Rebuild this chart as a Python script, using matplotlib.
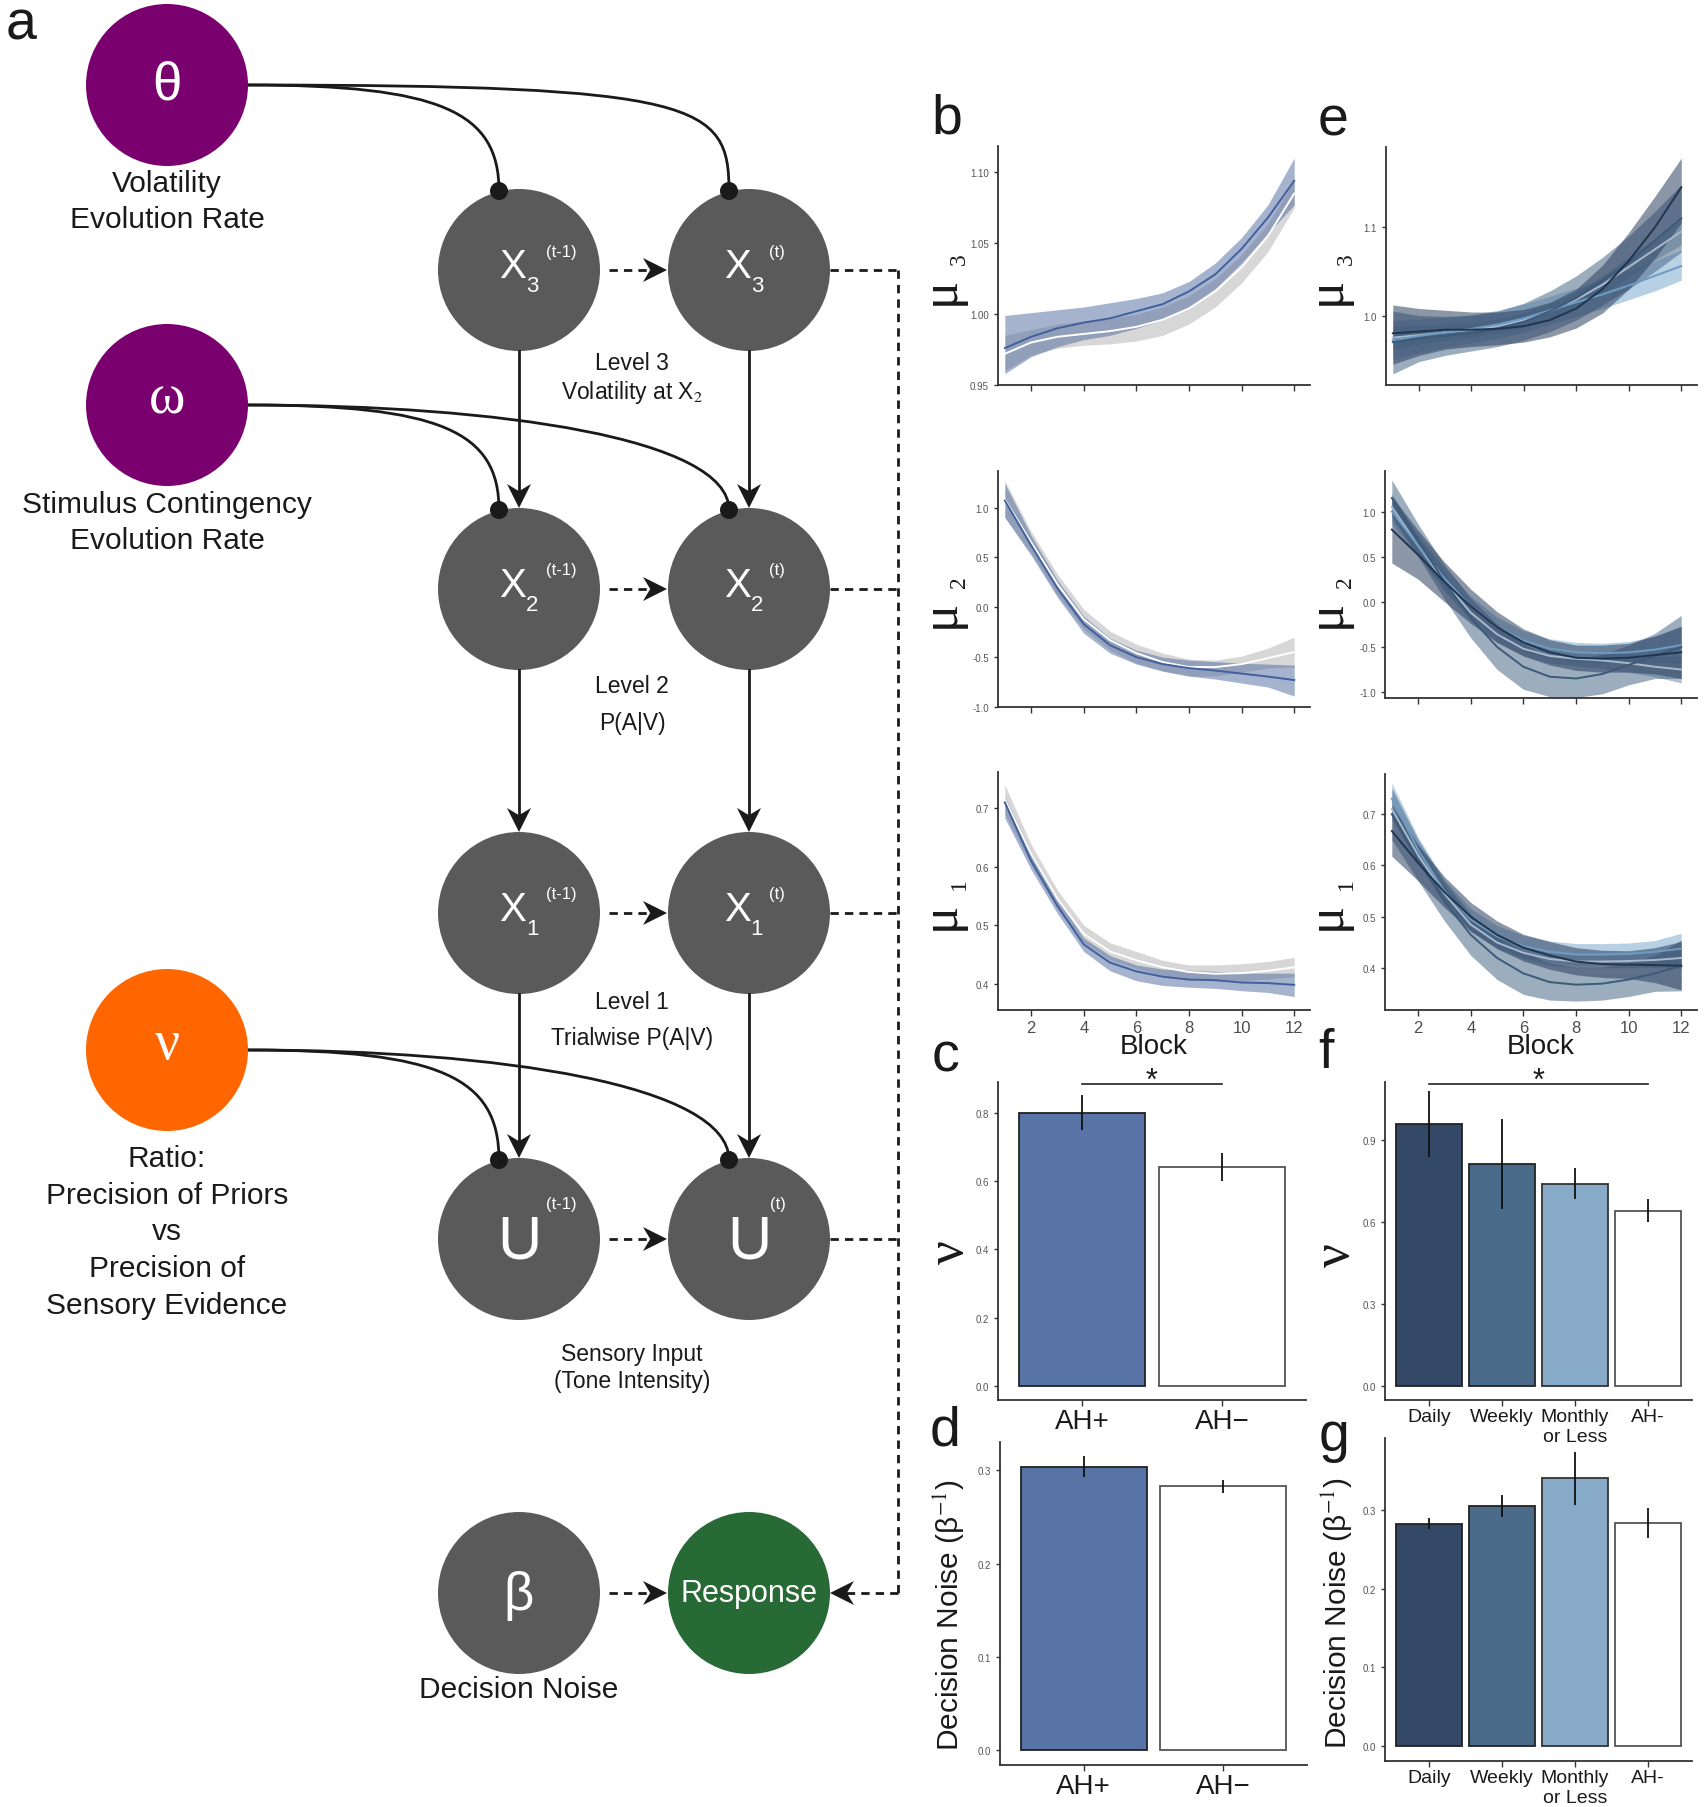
import numpy as np
import matplotlib.pyplot as plt
from matplotlib.patches import Circle, Polygon, PathPatch
from matplotlib.path import Path

plt.rcParams['font.family'] = ['Liberation Sans', 'DejaVu Sans']
plt.rcParams['mathtext.fontset'] = 'stix'

blocks = [1, 2, 3, 4, 5, 6, 7, 8, 9, 10, 11, 12]

# ---- panel b: AH+ vs AH- belief trajectories (mean + band) ----
b3_pos = [0.976, 0.984, 0.990, 0.994, 0.997, 1.002, 1.007, 1.016, 1.028, 1.046, 1.068, 1.094]
b3_pos_lo = [0.958, 0.970, 0.977, 0.982, 0.985, 0.990, 0.996, 1.005, 1.018, 1.036, 1.057, 1.077]
b3_pos_hi = [0.999, 1.001, 1.003, 1.005, 1.008, 1.011, 1.015, 1.023, 1.036, 1.054, 1.077, 1.110]
b3_neg = [0.972, 0.980, 0.984, 0.986, 0.988, 0.991, 0.996, 1.004, 1.016, 1.033, 1.055, 1.085]
b3_neg_lo = [0.960, 0.971, 0.976, 0.978, 0.979, 0.981, 0.985, 0.993, 1.005, 1.022, 1.044, 1.075]
b3_neg_hi = [0.985, 0.989, 0.993, 0.995, 0.997, 1.000, 1.005, 1.013, 1.025, 1.042, 1.064, 1.094]

b2_pos = [1.07, 0.62, 0.19, -0.17, -0.38, -0.50, -0.57, -0.61, -0.635, -0.665, -0.695, -0.73]
b2_pos_lo = [0.90, 0.52, 0.10, -0.26, -0.46, -0.57, -0.64, -0.69, -0.72, -0.76, -0.80, -0.89]
b2_pos_hi = [1.24, 0.72, 0.27, -0.09, -0.31, -0.43, -0.50, -0.53, -0.545, -0.56, -0.57, -0.58]
b2_neg = [1.08, 0.65, 0.23, -0.12, -0.33, -0.46, -0.55, -0.60, -0.60, -0.57, -0.51, -0.45]
b2_neg_lo = [0.90, 0.54, 0.12, -0.22, -0.43, -0.56, -0.64, -0.69, -0.69, -0.65, -0.61, -0.60]
b2_neg_hi = [1.27, 0.76, 0.33, -0.02, -0.24, -0.37, -0.46, -0.52, -0.53, -0.49, -0.41, -0.30]

b1_pos = [0.710, 0.610, 0.533, 0.467, 0.436, 0.421, 0.412, 0.407, 0.406, 0.402, 0.401, 0.398]
b1_pos_lo = [0.683, 0.595, 0.520, 0.455, 0.422, 0.405, 0.397, 0.394, 0.392, 0.388, 0.385, 0.378]
b1_pos_hi = [0.720, 0.625, 0.545, 0.478, 0.448, 0.432, 0.425, 0.423, 0.421, 0.418, 0.418, 0.418]
b1_neg = [0.715, 0.622, 0.545, 0.485, 0.455, 0.440, 0.428, 0.420, 0.417, 0.418, 0.422, 0.428]
b1_neg_lo = [0.690, 0.603, 0.527, 0.470, 0.441, 0.426, 0.414, 0.408, 0.405, 0.405, 0.408, 0.412]
b1_neg_hi = [0.740, 0.638, 0.560, 0.500, 0.470, 0.455, 0.440, 0.432, 0.432, 0.434, 0.438, 0.445]

# ---- panel e: by voice-hearing frequency ----
e3_daily = [0.980, 0.982, 0.984, 0.984, 0.985, 0.988, 0.995, 1.008, 1.030, 1.062, 1.100, 1.145]
e3_daily_lo = [0.945, 0.955, 0.962, 0.965, 0.967, 0.970, 0.976, 0.986, 1.003, 1.030, 1.065, 1.105]
e3_daily_hi = [1.012, 1.008, 1.006, 1.004, 1.004, 1.007, 1.015, 1.030, 1.057, 1.094, 1.135, 1.178]
e3_weekly = [0.970, 0.974, 0.977, 0.980, 0.985, 0.993, 1.005, 1.020, 1.040, 1.060, 1.085, 1.110]
e3_weekly_lo = [0.934, 0.948, 0.955, 0.960, 0.965, 0.972, 0.982, 0.995, 1.012, 1.030, 1.050, 1.072]
e3_weekly_hi = [1.005, 1.000, 0.999, 1.000, 1.005, 1.014, 1.028, 1.045, 1.066, 1.090, 1.118, 1.148]
e3_monthly = [0.972, 0.977, 0.981, 0.985, 0.990, 0.997, 1.006, 1.015, 1.024, 1.034, 1.045, 1.056]
e3_monthly_lo = [0.950, 0.958, 0.964, 0.969, 0.974, 0.981, 0.990, 0.999, 1.008, 1.018, 1.028, 1.040]
e3_monthly_hi = [0.994, 0.996, 0.998, 1.001, 1.006, 1.013, 1.022, 1.031, 1.040, 1.051, 1.062, 1.074]
e3_neg = [0.975, 0.978, 0.981, 0.984, 0.988, 0.995, 1.005, 1.018, 1.035, 1.055, 1.075, 1.095]
e3_neg_lo = [0.962, 0.968, 0.972, 0.976, 0.980, 0.987, 0.996, 1.009, 1.025, 1.044, 1.063, 1.080]
e3_neg_hi = [0.988, 0.989, 0.990, 0.992, 0.996, 1.003, 1.014, 1.027, 1.045, 1.066, 1.087, 1.110]

e2_daily = [0.80, 0.52, 0.22, -0.05, -0.28, -0.45, -0.56, -0.62, -0.63, -0.62, -0.59, -0.56]
e2_daily_lo = [0.43, 0.25, 0.00, -0.24, -0.45, -0.60, -0.70, -0.76, -0.78, -0.78, -0.80, -0.85]
e2_daily_hi = [1.17, 0.79, 0.44, 0.14, -0.11, -0.30, -0.42, -0.48, -0.48, -0.46, -0.38, -0.27]
e2_weekly = [1.15, 0.68, 0.22, -0.18, -0.50, -0.72, -0.83, -0.85, -0.80, -0.70, -0.60, -0.50]
e2_weekly_lo = [0.95, 0.50, 0.03, -0.40, -0.75, -0.97, -1.05, -1.06, -1.02, -0.92, -0.85, -0.85]
e2_weekly_hi = [1.35, 0.86, 0.41, 0.04, -0.25, -0.47, -0.61, -0.64, -0.58, -0.48, -0.35, -0.15]
e2_monthly = [1.00, 0.62, 0.26, -0.05, -0.28, -0.43, -0.52, -0.56, -0.57, -0.56, -0.53, -0.48]
e2_monthly_lo = [0.85, 0.50, 0.14, -0.16, -0.39, -0.54, -0.63, -0.67, -0.68, -0.68, -0.68, -0.68]
e2_monthly_hi = [1.15, 0.74, 0.38, 0.06, -0.17, -0.32, -0.41, -0.45, -0.46, -0.44, -0.38, -0.28]
e2_neg = [1.05, 0.62, 0.22, -0.12, -0.36, -0.52, -0.60, -0.63, -0.65, -0.68, -0.72, -0.75]
e2_neg_lo = [0.90, 0.52, 0.12, -0.21, -0.45, -0.60, -0.68, -0.71, -0.74, -0.78, -0.83, -0.90]
e2_neg_hi = [1.20, 0.72, 0.32, -0.03, -0.27, -0.44, -0.52, -0.55, -0.56, -0.58, -0.61, -0.60]

e1_daily = [0.667, 0.605, 0.548, 0.500, 0.465, 0.440, 0.425, 0.413, 0.408, 0.407, 0.406, 0.405]
e1_daily_lo = [0.618, 0.570, 0.518, 0.472, 0.438, 0.414, 0.398, 0.387, 0.382, 0.380, 0.372, 0.358]
e1_daily_hi = [0.716, 0.640, 0.578, 0.528, 0.492, 0.466, 0.452, 0.440, 0.435, 0.434, 0.440, 0.452]
e1_weekly = [0.700, 0.610, 0.530, 0.465, 0.420, 0.390, 0.373, 0.368, 0.370, 0.378, 0.390, 0.405]
e1_weekly_lo = [0.650, 0.570, 0.492, 0.425, 0.378, 0.349, 0.338, 0.336, 0.338, 0.345, 0.355, 0.356]
e1_weekly_hi = [0.750, 0.650, 0.568, 0.505, 0.462, 0.431, 0.410, 0.402, 0.402, 0.411, 0.425, 0.455]
e1_monthly = [0.730, 0.630, 0.550, 0.495, 0.462, 0.443, 0.432, 0.427, 0.427, 0.428, 0.432, 0.438]
e1_monthly_lo = [0.700, 0.605, 0.528, 0.474, 0.441, 0.422, 0.411, 0.406, 0.406, 0.407, 0.410, 0.408]
e1_monthly_hi = [0.760, 0.655, 0.572, 0.516, 0.483, 0.464, 0.453, 0.448, 0.448, 0.449, 0.454, 0.468]
e1_neg = [0.710, 0.620, 0.545, 0.485, 0.450, 0.430, 0.418, 0.413, 0.413, 0.414, 0.416, 0.420]
e1_neg_lo = [0.690, 0.603, 0.530, 0.472, 0.438, 0.418, 0.406, 0.401, 0.401, 0.401, 0.401, 0.400]
e1_neg_hi = [0.730, 0.637, 0.560, 0.498, 0.462, 0.442, 0.430, 0.425, 0.425, 0.427, 0.431, 0.440]

# ---- bar panels ----
groups2 = ['AH+', 'AH\u2212']
nu2 = [0.798, 0.642]
nu2_lo = [0.749, 0.600]
nu2_hi = [0.851, 0.683]
noise2 = [0.304, 0.283]
noise2_lo = [0.293, 0.2754]
noise2_hi = [0.315, 0.2897]

groups4 = ['Daily', 'Weekly', 'Monthly\nor Less', 'AH-']
nu4 = [0.957, 0.811, 0.740, 0.640]
nu4_lo = [0.836, 0.646, 0.683, 0.600]
nu4_hi = [1.079, 0.976, 0.799, 0.683]
noise4 = [0.283, 0.306, 0.341, 0.284]
noise4_lo = [0.276, 0.291, 0.307, 0.265]
noise4_hi = [0.290, 0.320, 0.375, 0.303]

W, H = 1704, 1808
fig = plt.figure(figsize=(W / 100, H / 100), dpi=100)


def box(x0, x1, y0, y1):
    return [x0 / W, 1 - y1 / H, (x1 - x0) / W, (y1 - y0) / H]


# ---------------- diagram (pixel coordinates) ----------------
dg = fig.add_axes([0, 0, 1, 1])
dg.set_xlim(0, W)
dg.set_ylim(H, 0)
dg.axis('off')
INK = '#1a1a1a'
GREY = '#5a5a5a'
R = 81


def node(x, y, color):
    dg.add_patch(Circle((x, y), R, color=color, lw=0, zorder=2))


def ball(x, y):
    dg.add_patch(Circle((x, y), 9, color=INK, lw=0, zorder=5))


def head(x, y, dx, dy, L=24, w=12):
    n = np.hypot(dx, dy)
    ux, uy = dx / n, dy / n
    px, py = -uy, ux
    bx, by = x - L * ux, y - L * uy
    pts = [(x, y), (bx + w * px, by + w * py), (x - 0.7 * L * ux, y - 0.7 * L * uy),
           (bx - w * px, by - w * py)]
    dg.add_patch(Polygon(pts, closed=True, color=INK, lw=0, zorder=4))


def curve(p0, p1, p2, p3):
    path = Path([p0, p1, p2, p3], [Path.MOVETO, Path.CURVE4, Path.CURVE4, Path.CURVE4])
    dg.add_patch(PathPatch(path, fc='none', ec=INK, lw=2, zorder=3))


dash = (0, (3, 2.2))
cols = [519, 749]
rows = [271, 590, 914, 1240]

for cy in rows:
    for cx in cols:
        node(cx, cy, GREY)
node(519, 1594, GREY)
node(749, 1594, '#276a35')
node(167, 86, '#7a0070')
node(167, 406, '#7a0070')
node(167, 1051, '#ff6600')

# horizontal dashed arrows between time slices
for cy in rows + [1594]:
    dg.plot([609, 650], [cy, cy], color=INK, lw=2, ls=dash, zorder=3)
    head(667, cy, 1, 0)

# dashed lines to the response node
for cy in rows:
    dg.plot([830, 898], [cy, cy], color=INK, lw=2, ls=dash, zorder=3)
dg.plot([898, 898], [271, 1594], color=INK, lw=2, ls=dash, zorder=3)
dg.plot([898, 846], [1594, 1594], color=INK, lw=2, ls=dash, zorder=3)
head(830, 1594, -1, 0)

# vertical solid arrows
for cx in cols:
    for y0, y1 in [(352, 509), (671, 833), (995, 1159)]:
        dg.plot([cx, cx], [y0, y1 - 12], color=INK, lw=2, zorder=3)
        head(cx, y1, 0, 1)

# parameter curves with ball ends
for py, ty in [(86, 271), (406, 590), (1051, 1240)]:
    far = py < 200
    curve((248, py), (440, py), (499, py + 0.25 * (ty - 79 - py)), (499, ty - 79))
    if far:
        curve((248, py), (700, py), (729, py + 0.18 * (ty - 79 - py)), (729, ty - 79))
    else:
        curve((248, py), (500, py), (729, py + 0.32 * (ty - 79 - py)), (729, ty - 79))
    ball(499, ty - 79)
    ball(729, ty - 79)

# node symbols
for cy, s in [(271, '3'), (590, '2'), (914, '1')]:
    for cx, sup, xo, so, po in [(519, '(t-1)', -6.5, 13, 42), (749, '(t)', -11.5, 8, 28)]:
        dg.text(cx + xo, cy - 4, 'X', color='white', fontsize=29, ha='center', va='center', zorder=6)
        dg.text(cx + so, cy + 16, s, color='white', fontsize=16, ha='center', va='center', zorder=6)
        dg.text(cx + po, cy - 19, sup, color='white', fontsize=12, ha='center', va='center', zorder=6)
for cx, sup, po in [(519, '(t-1)', 42), (749, '(t)', 29)]:
    dg.text(cx, 1243, 'U', color='white', fontsize=44, ha='center', va='center', zorder=6)
    dg.text(cx + po, 1205, sup, color='white', fontsize=12, ha='center', va='center', zorder=6)
dg.text(519, 1596, 'β', color='white', fontsize=38, ha='center', va='center', zorder=6)
dg.text(749, 1594, 'Response', color='white', fontsize=22, ha='center', va='center', zorder=6)
dg.text(167, 86, 'θ', color='white', fontsize=38, ha='center', va='center', zorder=6)
dg.text(167, 400, 'ω', color='white', fontsize=40, ha='center', va='center', zorder=6,
        family='Liberation Serif')
dg.text(167, 1045, 'ν', color='white', fontsize=40, ha='center', va='center', zorder=6,
        family='Liberation Serif')

# node captions
for y, s in [(184, 'Volatility'), (220, 'Evolution Rate'), (505, 'Stimulus Contingency'),
             (541, 'Evolution Rate'), (1159, 'Ratio:'), (1196, 'Precision of Priors'),
             (1232, 'vs'), (1269, 'Precision of'), (1306, 'Sensory Evidence')]:
    dg.text(167, y, s, fontsize=21.5, ha='center', va='center', color=INK)
dg.text(519, 1690, 'Decision Noise', fontsize=21.5, ha='center', va='center', color=INK)
for y, s in [(364, 'Level 3'), (392, 'Volatility at X$_2$'), (687, 'Level 2'), (724, 'P(A|V)'),
             (1003, 'Level 1'), (1039, 'Trialwise P(A|V)'), (1355, 'Sensory Input'),
             (1382, '(Tone Intensity)')]:
    dg.text(632, y, s, fontsize=16.5, ha='center', va='center', color=INK)

# panel letters
for x, y, s in [(21, 25, 'a'), (947, 120, 'b'), (1333, 122, 'e'), (945, 1058, 'c'),
                (1326, 1054, 'f'), (945, 1432, 'd'), (1334, 1437, 'g')]:
    dg.text(x, y, s, fontsize=40, ha='center', va='center', color=INK)


# ---------------- chart panels ----------------
def style(ax):
    ax.patch.set_visible(False)
    for s in ['top', 'right']:
        ax.spines[s].set_visible(False)
    for s in ['left', 'bottom']:
        ax.spines[s].set_color('#333333')
        ax.spines[s].set_linewidth(1.3)
    ax.tick_params(axis='y', labelsize=7, colors='#333333', labelcolor='#555555', length=3, width=1)
    ax.tick_params(axis='x', length=4, width=1, colors='#333333')


def traj(box_px, series, ylim, yticks, yfmt, show_x):
    ax = fig.add_axes(box(*box_px))
    for mean, lo, hi, fill, alpha, line in series:
        ax.fill_between(blocks, lo, hi, color=fill, alpha=alpha, lw=0)
        ax.plot(blocks, mean, color=line, lw=1.4)
    ax.set_xlim(0.74, 12.6)
    ax.set_ylim(*ylim)
    ax.set_xticks([2, 4, 6, 8, 10, 12])
    ax.set_yticks(yticks)
    ax.set_yticklabels([yfmt.format(v) for v in yticks])
    style(ax)
    if show_x:
        ax.tick_params(axis='x', labelsize=12, labelcolor='#4d4d4d', pad=3)
        ax.set_xlabel('Block', fontsize=20, labelpad=-1, color=INK)
    else:
        ax.set_xticklabels([])
    return ax


POS_FILL, POS_LINE = '#4d69a1', '#42609c'
NEG_FILL = '#d3d3d3'
b_sets = [
    ((998, 1310, 147, 386), b3_pos, b3_pos_lo, b3_pos_hi, b3_neg, b3_neg_lo, b3_neg_hi,
     (0.95, 1.1185), [0.95, 1.00, 1.05, 1.10], '{:.2f}', False),
    ((998, 1310, 472, 708), b2_pos, b2_pos_lo, b2_pos_hi, b2_neg, b2_neg_lo, b2_neg_hi,
     (-1.0, 1.366), [-1.0, -0.5, 0.0, 0.5, 1.0], '{:.1f}', False),
    ((998, 1310, 773, 1011), b1_pos, b1_pos_lo, b1_pos_hi, b1_neg, b1_neg_lo, b1_neg_hi,
     (0.355, 0.762), [0.4, 0.5, 0.6, 0.7], '{:.1f}', True),
]
for bx, m1, l1, h1, m0, l0, h0, yl, yt, fmt, sx in b_sets:
    traj(bx, [(m0, l0, h0, NEG_FILL, 0.9, 'white'),
              (m1, l1, h1, POS_FILL, 0.5, POS_LINE)], yl, yt, fmt, sx)

DAILY, WEEKLY, MONTHLY = '#334867', '#4b6b8a', '#87abc9'
e_sets = [
    ((1386, 1697, 148, 386),
     [(e3_neg, e3_neg_lo, e3_neg_hi), (e3_monthly, e3_monthly_lo, e3_monthly_hi),
      (e3_weekly, e3_weekly_lo, e3_weekly_hi), (e3_daily, e3_daily_lo, e3_daily_hi)],
     (0.9215, 1.1906), [1.0, 1.1], '{:.1f}', False),
    ((1385, 1697, 472, 699),
     [(e2_neg, e2_neg_lo, e2_neg_hi), (e2_monthly, e2_monthly_lo, e2_monthly_hi),
      (e2_weekly, e2_weekly_lo, e2_weekly_hi), (e2_daily, e2_daily_lo, e2_daily_hi)],
     (-1.066, 1.449), [-1.0, -0.5, 0.0, 0.5, 1.0], '{:.1f}', False),
    ((1385, 1697, 775, 1011),
     [(e1_neg, e1_neg_lo, e1_neg_hi), (e1_monthly, e1_monthly_lo, e1_monthly_hi),
      (e1_weekly, e1_weekly_lo, e1_weekly_hi), (e1_daily, e1_daily_lo, e1_daily_hi)],
     (0.3187, 0.778), [0.4, 0.5, 0.6, 0.7], '{:.1f}', True),
]
e_style = [('#5f7590', 0.45, '#a9b9cc'), ('#72a2c8', 0.5, '#6c9cc4'),
           ('#4b6b8a', 0.55, '#3d5a7a'), ('#2d4160', 0.55, '#22354f')]
for bx, groups, yl, yt, fmt, sx in e_sets:
    series = [(m, lo, hi, f, a, c) for (m, lo, hi), (f, a, c) in zip(groups, e_style)]
    traj(bx, series, yl, yt, fmt, sx)

# mu axis labels
for xm, xs in [(941, 959), (1327, 1346)]:
    for cy, s in [(267, '3'), (590, '2'), (892, '1')]:
        dg.text(xm, cy + 24, 'μ', fontsize=38, rotation=90, ha='center', va='center',
                family='Liberation Serif', color=INK)
        dg.text(xs, cy - 8, s, fontsize=17, rotation=90, ha='center', va='center',
                family='Liberation Serif', color=INK)


def bars(box_px, names, vals, lo, hi, colors, edges, ylim, yticks, name_size):
    ax = fig.add_axes(box(*box_px))
    x = np.arange(1, len(vals) + 1)
    ax.bar(x, vals, width=0.9, color=colors, edgecolor=edges, linewidth=1.3, zorder=2)
    ax.vlines(x, lo, hi, color='#111111', lw=1.3, zorder=3)
    ax.set_xlim(0.4, len(vals) + 0.6)
    ax.set_ylim(*ylim)
    ax.set_xticks(x)
    ax.set_xticklabels(names)
    ax.set_yticks(yticks)
    ax.set_yticklabels(['{:.1f}'.format(v) for v in yticks])
    style(ax)
    ax.tick_params(axis='x', labelsize=name_size, labelcolor=INK, pad=2)
    return ax


c_colors = ['#5873a6', 'white']
c_edges = ['#222222', '#555555']
f_colors = [DAILY, WEEKLY, MONTHLY, 'white']
f_edges = ['#222222', '#222222', '#333333', '#555555']

axc = bars((998, 1306, 1083, 1401), groups2, nu2, nu2_lo, nu2_hi, c_colors, c_edges,
           (-0.041, 0.8896), [0.0, 0.2, 0.4, 0.6, 0.8], 20)
axc.plot([1, 2], [0.883, 0.883], color='#222222', lw=1.2, clip_on=False)
axc.text(1.5, 0.893, '*', fontsize=22, ha='center', va='center', color=INK)

axf = bars((1385, 1692, 1083, 1401), groups4, nu4, nu4_lo, nu4_hi, f_colors, f_edges,
           (-0.052, 1.112), [0.0, 0.3, 0.6, 0.9], 14)
axf.plot([1, 4], [1.104, 1.104], color='#222222', lw=1.2, clip_on=False)
axf.text(2.5, 1.117, '*', fontsize=22, ha='center', va='center', color=INK)

bars((1000, 1307, 1443, 1766), groups2, noise2, noise2_lo, noise2_hi, c_colors, c_edges,
     (-0.0157, 0.3303), [0.0, 0.1, 0.2, 0.3], 20)
bars((1385, 1692, 1439, 1762), groups4, noise4, noise4_lo, noise4_hi, f_colors, f_edges,
     (-0.0195, 0.3923), [0.0, 0.1, 0.2, 0.3], 14)

# nu / decision noise axis labels
for x, y in [(950, 1252), (1336, 1255)]:
    dg.text(x, y, 'ν', fontsize=38, rotation=90, ha='center', va='center',
            family='Liberation Serif', color=INK)
for x, y in [(949, 1615), (1337, 1613)]:
    dg.text(x, y, 'Decision Noise (β$^{-1}$)', fontsize=21.5, rotation=90, ha='center',
            va='center', color=INK)

fig.savefig('out.png', dpi=100)
